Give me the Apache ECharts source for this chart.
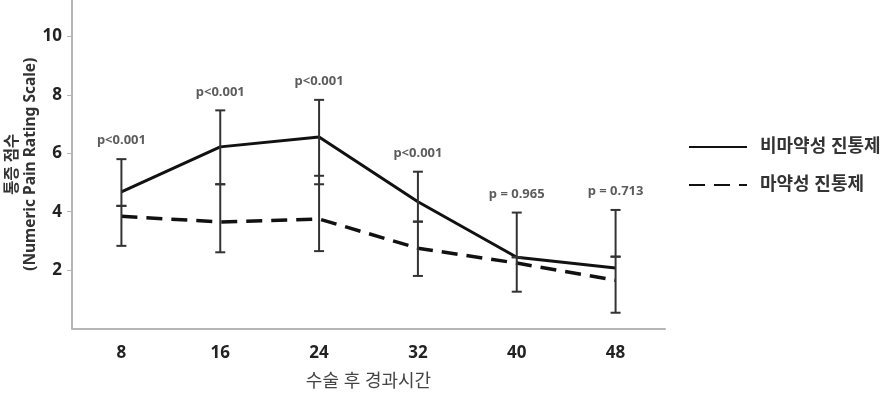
<!DOCTYPE html>
<html>
<head>
<meta charset="utf-8">
<script src="https://cdn.jsdelivr.net/npm/echarts@6/dist/echarts.min.js"></script>
<style>
html,body{margin:0;padding:0;background:#fff;}
#chart{width:889px;height:397px;}
</style>
</head>
<body>
<div id="chart"></div>
<script>
const categories = ['8', '16', '24', '32', '40', '48'];
const yTicks = [2, 4, 6, 8, 10];
const seriesNames = ['비마약성 진통제', '마약성 진통제'];
const nonOpioid = [4.68, 6.22, 6.56, 4.34, 2.44, 2.07];
const opioid = [3.84, 3.65, 3.75, 2.75, 2.24, 1.65];
const nonOpioidHigh = [5.80, 7.47, 7.83, 5.37, 3.97, 4.06];
const nonOpioidLow = [4.20, 4.94, 5.23, 3.66, 2.44, 2.46];
const opioidHigh = [4.20, 4.94, 4.94, 3.66, 2.44, 2.46];
const opioidLow = [2.83, 2.61, 2.65, 1.80, 1.26, 0.54];
const pValues = ['p<0.001', 'p<0.001', 'p<0.001', 'p<0.001', 'p = 0.965', 'p = 0.713'];

const FONT = '"Noto Sans", "Noto Sans CJK KR", sans-serif';
const errData = categories.map((c, i) => [i, nonOpioidHigh[i], nonOpioidLow[i], opioidHigh[i], opioidLow[i]]);

const chart = echarts.init(document.getElementById('chart'));
chart.setOption({
  backgroundColor: '#fff',
  animation: false,
  grid: {left: 72, right: 224, top: 0, bottom: 68.5, containLabel: false, outerBoundsMode: 'none'},
  legend: {
    data: seriesNames,
    orient: 'vertical',
    left: 683,
    top: 133,
    itemWidth: 58,
    itemHeight: 16,
    itemGap: 20,
    itemStyle: {opacity: 0},
    textStyle: {fontFamily: FONT, fontSize: 18, fontWeight: 'bold', color: '#333', padding: [0, 0, 0, 8]}
  },
  xAxis: {
    type: 'category',
    data: categories,
    boundaryGap: true,
    name: '수술 후 경과시간',
    nameLocation: 'middle',
    nameGap: 44,
    nameMoveOverlap: false,
    nameTextStyle: {fontFamily: FONT, fontSize: 18, color: '#444'},
    axisLine: {lineStyle: {color: '#b5b5b5', width: 2}},
    axisTick: {alignWithLabel: true, length: 5, lineStyle: {color: '#b5b5b5', width: 1}},
    axisLabel: {margin: 16, fontFamily: FONT, fontSize: 17, fontWeight: 'bold', color: '#222'}
  },
  yAxis: {
    type: 'value',
    min: 0,
    max: 11.25,
    name: '통증 점수\n(Numeric Pain Rating Scale)',
    nameLocation: 'middle',
    nameRotate: 90,
    nameGap: 32,
    nameMoveOverlap: false,
    nameTextStyle: {fontFamily: FONT, fontSize: 15.5, fontWeight: 'bold', color: '#333', lineHeight: 18},
    splitLine: {show: false},
    axisLine: {show: true, lineStyle: {color: '#b5b5b5', width: 2}},
    axisTick: {show: true, length: 5, customValues: yTicks, lineStyle: {color: '#b5b5b5', width: 1}},
    axisLabel: {margin: 10, customValues: yTicks, fontFamily: FONT, fontSize: 17, fontWeight: 'bold', color: '#222'}
  },
  series: [
    {
      name: seriesNames[0], type: 'line', data: nonOpioid, symbol: 'none',
      lineStyle: {color: '#111', width: 3, type: 'solid'}, itemStyle: {color: '#111'}, z: 3
    },
    {
      name: seriesNames[1], type: 'line', data: opioid, symbol: 'none',
      lineStyle: {color: '#111', width: 3.5, type: [16, 9]}, itemStyle: {color: '#111'}, z: 3
    },
    {
      type: 'custom',
      data: errData,
      encode: {x: 0, y: [1, 2, 3, 4]},
      z: 4,
      renderItem: function (params, api) {
        const vals = [api.value(1), api.value(2), api.value(3), api.value(4)];
        const x = api.coord([api.value(0), 0])[0];
        const ys = vals.map(v => api.coord([api.value(0), v])[1]);
        const top = Math.min.apply(null, ys), bot = Math.max.apply(null, ys);
        const style = {stroke: '#333', lineWidth: 2, fill: null};
        const children = [{type: 'line', shape: {x1: x, y1: top, x2: x, y2: bot}, style: style}];
        ys.forEach(y => children.push({type: 'line', shape: {x1: x - 5, y1: y, x2: x + 5, y2: y}, style: style}));
        return {type: 'group', children: children};
      }
    },
    {
      type: 'scatter',
      data: nonOpioidHigh,
      symbolSize: 0,
      z: 5,
      label: {
        show: true, position: 'top', distance: 12,
        formatter: p => pValues[p.dataIndex],
        fontFamily: FONT, fontSize: 13, fontWeight: 'bold', color: '#333'
      }
    }
  ]
});
</script>
</body>
</html>
